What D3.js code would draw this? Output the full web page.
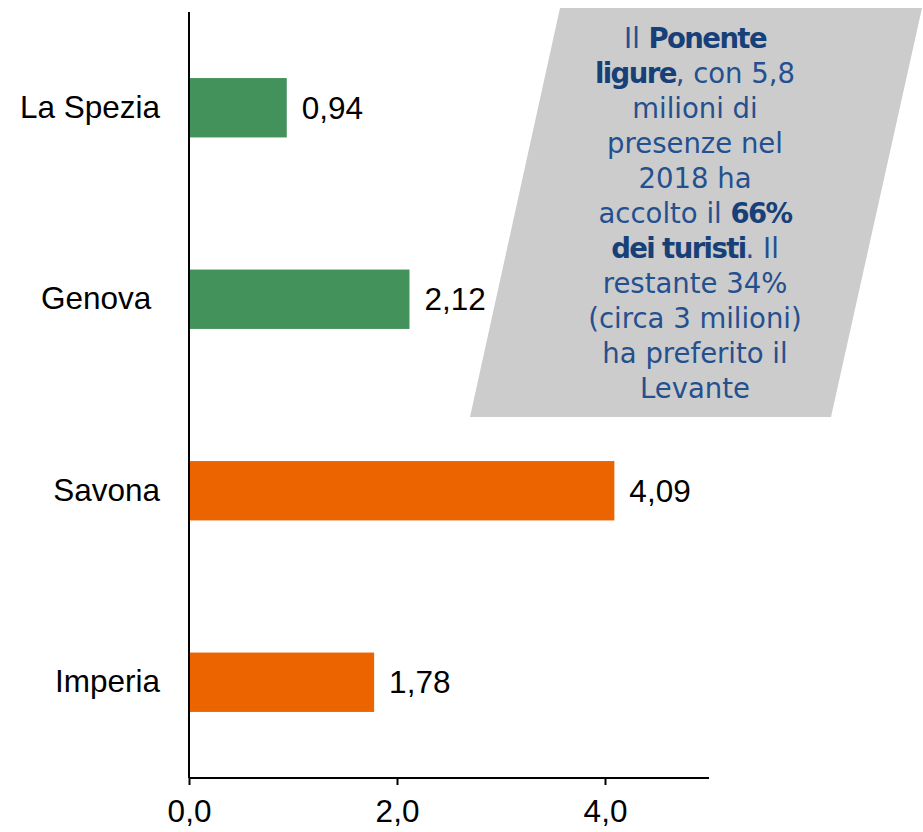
<!DOCTYPE html>
<html><head><meta charset="utf-8">
<script src="https://cdn.jsdelivr.net/npm/d3@7"></script>
<style>
body{margin:0;background:#fff;}
svg{display:block;}
</style></head>
<body><svg id="chart" width="923" height="832"></svg>
<script>
const categories = ["La Spezia", "Genova", "Savona", "Imperia"];
const values = [0.94, 2.12, 4.09, 1.78];
const groups = ["Levante", "Levante", "Ponente", "Ponente"];
const tickValues = [0, 2, 4];
const noteLines = [
  [["Il ", false], ["Ponente", true]],
  [["ligure", true], [", con 5,8", false]],
  [["milioni di", false]],
  [["presenze nel", false]],
  [["2018 ha", false]],
  [["accolto il ", false], ["66%", true]],
  [["dei turisti", true], [". Il", false]],
  [["restante 34%", false]],
  [["(circa 3 milioni)", false]],
  [["ha preferito il", false]],
  [["Levante", false]]
];

const svg = d3.select("#chart");
const color = d3.scaleOrdinal().domain(["Levante","Ponente"]).range(["#43925c","#eb6400"]);
const x = d3.scaleLinear().domain([0, 5]).range([189, 709]);
const y = d3.scaleBand().domain(categories).range([12, 778]).paddingInner(0.69).paddingOuter(0.345);
const sans = "'Liberation Sans', Arial, sans-serif";

// note box (parallelogram)
svg.append("polygon")
  .attr("points", "560,8 922,8 831,417 470,417")
  .attr("fill", "#cccccc");

const note = svg.append("text")
  .attr("text-anchor", "middle")
  .attr("font-family", "'DejaVu Sans', sans-serif")
  .attr("font-size", 27.5)
  .attr("fill", "#24508f")
  .style("white-space", "pre");
noteLines.forEach((segs, i) => {
  const line = note.append("tspan").attr("x", 695).attr("y", 48 + i * 35);
  segs.forEach(([s, b]) => {
    const t = line.append("tspan").text(s);
    if (b) t.attr("font-weight", "bold").attr("letter-spacing", -1.6).attr("fill", "#173f78");
  });
});

// bars
svg.selectAll("rect.bar").data(categories).join("rect")
  .attr("class", "bar")
  .attr("x", x(0))
  .attr("y", d => y(d))
  .attr("width", (d, i) => x(values[i]) - x(0))
  .attr("height", y.bandwidth())
  .attr("fill", (d, i) => color(groups[i]));

// value labels
const fmt = v => d3.format(".2f")(v).replace(".", ",");
svg.selectAll("text.val").data(categories).join("text")
  .attr("class", "val")
  .attr("x", (d, i) => x(values[i]) + 15)
  .attr("y", d => y(d) + y.bandwidth() / 2)
  .attr("dy", "0.35em")
  .attr("font-family", sans)
  .attr("font-size", 31.5)
  .attr("fill", "#000")
  .text((d, i) => fmt(values[i]));

// y axis
const yAxis = svg.append("g").attr("transform", `translate(${x(0)},0)`)
  .call(d3.axisLeft(y).tickSize(0).tickPadding(29));
yAxis.select(".domain").attr("stroke", "#000").attr("stroke-width", 2).attr("d", "M0,12V778");
yAxis.selectAll("text")
  .attr("font-family", sans)
  .attr("font-size", 31.5)
  .attr("fill", "#000")
  .style("white-space", "pre")
  .text(d => d === "Genova" ? "Genova " : d);

// x axis
const xAxis = svg.append("g").attr("transform", "translate(0,778)")
  .call(d3.axisBottom(x).tickValues(tickValues).tickSize(7).tickPadding(15)
    .tickFormat(d => d3.format(".1f")(d).replace(".", ",")));
xAxis.select(".domain").attr("stroke", "#000").attr("stroke-width", 2).attr("d", "M189,0H709");
xAxis.selectAll(".tick line").attr("stroke", "#000").attr("stroke-width", 2);
xAxis.selectAll("text")
  .attr("font-family", sans)
  .attr("font-size", 31.5)
  .attr("fill", "#000");
</script>
</body></html>
